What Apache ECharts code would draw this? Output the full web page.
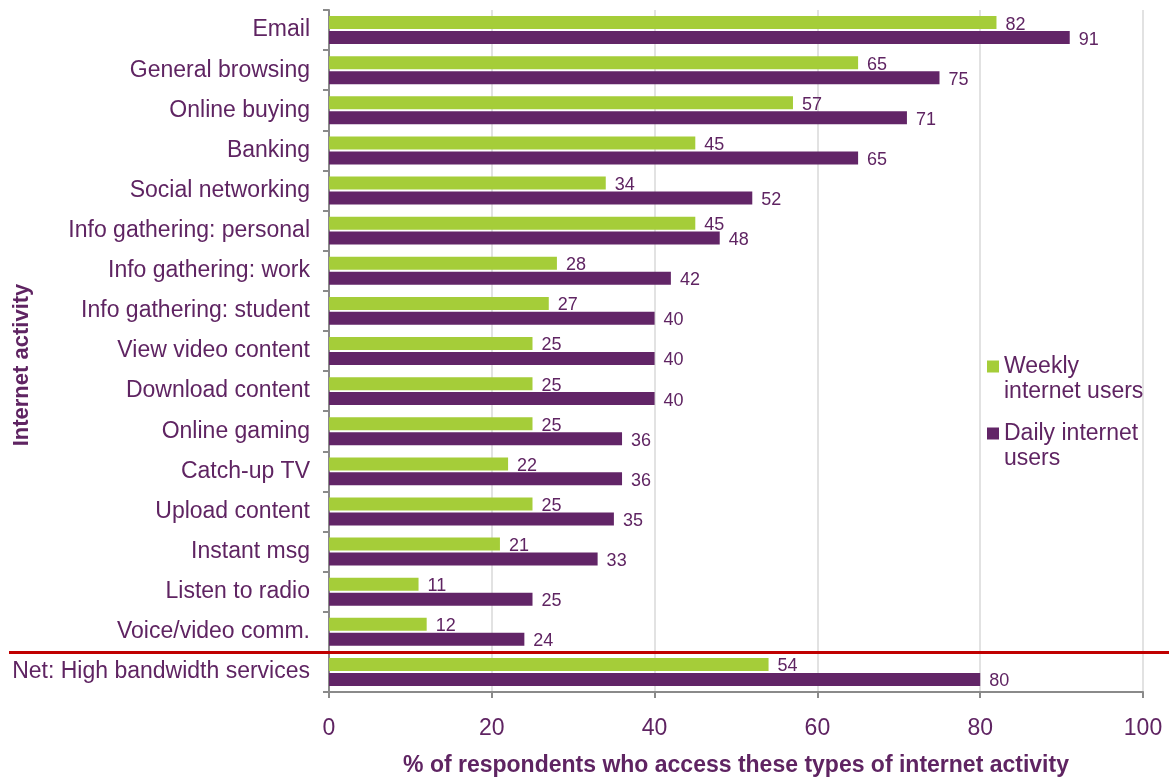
<!DOCTYPE html>
<html>
<head>
<meta charset="utf-8">
<script src="https://cdn.jsdelivr.net/npm/echarts@6/dist/echarts.min.js"></script>
<style>
html,body{margin:0;padding:0;background:#fff;}
#chart{width:1169px;height:778px;}
</style>
</head>
<body>
<div id="chart"></div>
<script>
const categories = [
  'Email', 'General browsing', 'Online buying', 'Banking', 'Social networking',
  'Info gathering: personal', 'Info gathering: work', 'Info gathering: student',
  'View video content', 'Download content', 'Online gaming', 'Catch-up TV',
  'Upload content', 'Instant msg', 'Listen to radio', 'Voice/video comm.',
  'Net: High bandwidth services'
];
const weeklyUsers = [82, 65, 57, 45, 34, 45, 28, 27, 25, 25, 25, 22, 25, 21, 11, 12, 54];
const dailyUsers = [91, 75, 71, 65, 52, 48, 42, 40, 40, 40, 36, 36, 35, 33, 25, 24, 80];
const xTicks = [0, 20, 40, 60, 80, 100];
const seriesNames = ['Weekly internet users', 'Daily internet users'];
const legendLines = {
  'Weekly internet users': ['Weekly', 'internet users'],
  'Daily internet users': ['Daily internet', 'users']
};

const GREEN = '#a5cd39';
const PURPLE = '#622567';
const TEXT = '#5f2462';
const FONT = '"Liberation Sans", Arial, sans-serif';

const chart = echarts.init(document.getElementById('chart'));

const valueLabel = {
  show: true,
  position: 'right',
  distance: 9,
  offset: [0, 2],
  color: TEXT,
  fontFamily: FONT,
  fontSize: 18
};

// Each legend entry is two lines; a blank first line keeps the swatch level with the top line
function legendFor(name, top) {
  return {
    orient: 'vertical',
    left: 987,
    top: top,
    padding: 0,
    itemWidth: 12,
    itemHeight: 12,
    icon: 'rect',
    textStyle: { color: TEXT, fontSize: 23, fontFamily: FONT, lineHeight: 25 },
    formatter: n => '\u00a0\n' + legendLines[n].join('\n'),
    data: [name]
  };
}

chart.setOption({
  animation: false,
  textStyle: { fontFamily: FONT },
  grid: { left: 329, right: 26, top: 10, bottom: 86, containLabel: false, outerBoundsMode: 'none' },
  legend: [legendFor(seriesNames[0], 329), legendFor(seriesNames[1], 396)],
  xAxis: {
    type: 'value',
    min: 0,
    max: 100,
    interval: 20,
    name: '% of respondents who access these types of internet activity',
    nameLocation: 'middle',
    nameGap: 62,
    nameMoveOverlap: false,
    nameTextStyle: { color: TEXT, fontSize: 23, fontWeight: 'bold', fontFamily: FONT },
    axisLine: { show: true, lineStyle: { color: '#8a8a8a', width: 2 } },
    axisTick: { show: true, length: 6, lineStyle: { color: '#8a8a8a', width: 2 } },
    axisLabel: {
      color: TEXT, fontSize: 23, margin: 25,
      formatter: v => xTicks.includes(v) ? String(v) : ''
    },
    splitLine: { show: true, lineStyle: { color: '#d9d9d9', width: 1.5 } }
  },
  yAxis: {
    type: 'category',
    inverse: true,
    data: categories,
    name: 'Internet activity',
    nameLocation: 'middle',
    nameGap: 296,
    nameMoveOverlap: false,
    nameRotate: 90,
    nameTextStyle: { color: TEXT, fontSize: 22, fontWeight: 'bold', padding: [0, 28, 0, 0] },
    axisLine: { show: true, lineStyle: { color: '#8a8a8a', width: 2 } },
    axisTick: { show: true, length: 6, lineStyle: { color: '#8a8a8a', width: 2 } },
    axisLabel: { color: TEXT, fontSize: 23, margin: 19, padding: [6, 0, 0, 0] }
  },
  series: [
    {
      name: seriesNames[0],
      type: 'bar',
      data: weeklyUsers,
      barWidth: 13,
      barGap: '15%',
      itemStyle: { color: GREEN },
      label: valueLabel
    },
    {
      name: seriesNames[1],
      type: 'bar',
      data: dailyUsers,
      barWidth: 13,
      itemStyle: { color: PURPLE },
      label: valueLabel
    }
  ]
});

// Red divider between the individual activities and the net total row
function drawDivider() {
  const a = chart.convertToPixel({ yAxisIndex: 0 }, categories[categories.length - 2]);
  const b = chart.convertToPixel({ yAxisIndex: 0 }, categories[categories.length - 1]);
  const y = (a + b) / 2 + 0.5;
  chart.setOption({
    graphic: [{
      type: 'line',
      z: 100,
      shape: { x1: 9, y1: y, x2: 1169, y2: y },
      style: { stroke: '#c00000', lineWidth: 3 }
    }]
  });
}
drawDivider();
</script>
</body>
</html>
